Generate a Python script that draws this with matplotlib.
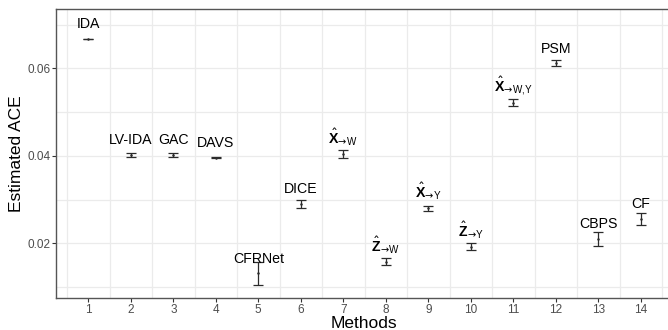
#!/usr/bin/env python
# encoding: utf-8

import numpy as np
import matplotlib
matplotlib.use('Agg')
import matplotlib.pyplot as plt

plt.rcParams['font.family'] = ['Liberation Sans', 'DejaVu Sans']
plt.rcParams['mathtext.fontset'] = 'custom'
plt.rcParams['mathtext.rm'] = 'DejaVu Sans'
plt.rcParams['mathtext.sf'] = 'Liberation Sans'
plt.rcParams['mathtext.it'] = 'Liberation Sans:italic'
plt.rcParams['mathtext.bf'] = 'Liberation Sans:bold'

# method index on the x axis
methods = [1, 2, 3, 4, 5, 6, 7, 8, 9, 10, 11, 12, 13, 14]
labels = ['IDA', 'LV-IDA', 'GAC', 'DAVS', 'CFRNet', 'DICE',
          r'$\hat{\mathbf{X}}_{\!{\rightarrow}\!\mathsf{W}}$',
          r'$\hat{\mathbf{Z}}_{\!{\rightarrow}\!\mathsf{W}}$',
          r'$\hat{\mathbf{X}}_{\!{\rightarrow}\!\mathsf{Y}}$',
          r'$\hat{\mathbf{Z}}_{\!{\rightarrow}\!\mathsf{Y}}$',
          r'$\hat{\mathbf{X}}_{\!{\rightarrow}\!\mathsf{W{,}Y}}$',
          'PSM', 'CBPS', 'CF']
ace_mean = [0.0667, 0.0402, 0.0402, 0.0396, 0.0131, 0.0290, 0.0404,
            0.0158, 0.0280, 0.0192, 0.0521, 0.0612, 0.0210, 0.0256]
ace_lower = [0.0666, 0.0398, 0.0398, 0.0394, 0.0105, 0.0281, 0.0395,
             0.0151, 0.0273, 0.0184, 0.0513, 0.0605, 0.0194, 0.0242]
ace_upper = [0.0668, 0.0406, 0.0406, 0.0398, 0.0157, 0.0299, 0.0414,
             0.0166, 0.0286, 0.0200, 0.0529, 0.0619, 0.0226, 0.0269]
yticks = [0.02, 0.04, 0.06]


def plot_ace():
    fig = plt.figure(figsize=(6.68, 3.30), dpi=100)
    ax = fig.add_axes([0.0838, 0.097, 0.9162, 0.8757])

    x = np.array(methods)
    mean = np.array(ace_mean)
    yerr = [mean - np.array(ace_lower), np.array(ace_upper) - mean]

    # background grid, ggplot theme_bw look
    for gx in np.arange(0.5, 15, 1.0):
        ax.axvline(gx, color='#ebebeb', lw=0.9, zorder=0)
    for gy in [0.01, 0.02, 0.03, 0.04, 0.05, 0.06, 0.07]:
        ax.axhline(gy, color='#ebebeb', lw=0.9, zorder=0)

    ax.errorbar(x, mean, yerr=yerr, fmt='o', color='#2b2b2b',
                markersize=0.8, elinewidth=0.9, capsize=3.5,
                capthick=0.9, zorder=3)

    # method names just above each estimate
    for xi, yi, lab in zip(methods, ace_mean, labels):
        ax.text(xi, yi + 0.0024, lab, ha='center', va='baseline',
                fontsize=10.2, color='black', zorder=4)

    ax.set_xlim(0.24, 14.64)
    ax.set_ylim(0.0075, 0.07355)
    ax.set_xticks(methods)
    ax.set_yticks(yticks)
    ax.set_yticklabels(['0.02', '0.04', '0.06'])

    # plot settings
    ax.set_xlabel('Methods', fontsize=12.5, va='baseline')
    ax.xaxis.set_label_coords(0.503, -0.105)
    ax.set_ylabel('Estimated ACE', fontsize=12.5, va='center')
    ax.yaxis.set_label_coords(-0.064, 0.5)
    ax.tick_params(axis='both', labelsize=8.5, labelcolor='#4d4d4d',
                   color='#333333', length=3, width=0.8)
    ax.tick_params(axis='x', pad=1.5)
    ax.tick_params(axis='y', pad=1)
    for side in ['left', 'top', 'bottom']:
        ax.spines[side].set_color('#555555')
        ax.spines[side].set_linewidth(1.0)
    ax.spines['right'].set_visible(False)

    fig.savefig('out.png', dpi=100)


def main():
    plot_ace()


if __name__ == '__main__':
    main()
